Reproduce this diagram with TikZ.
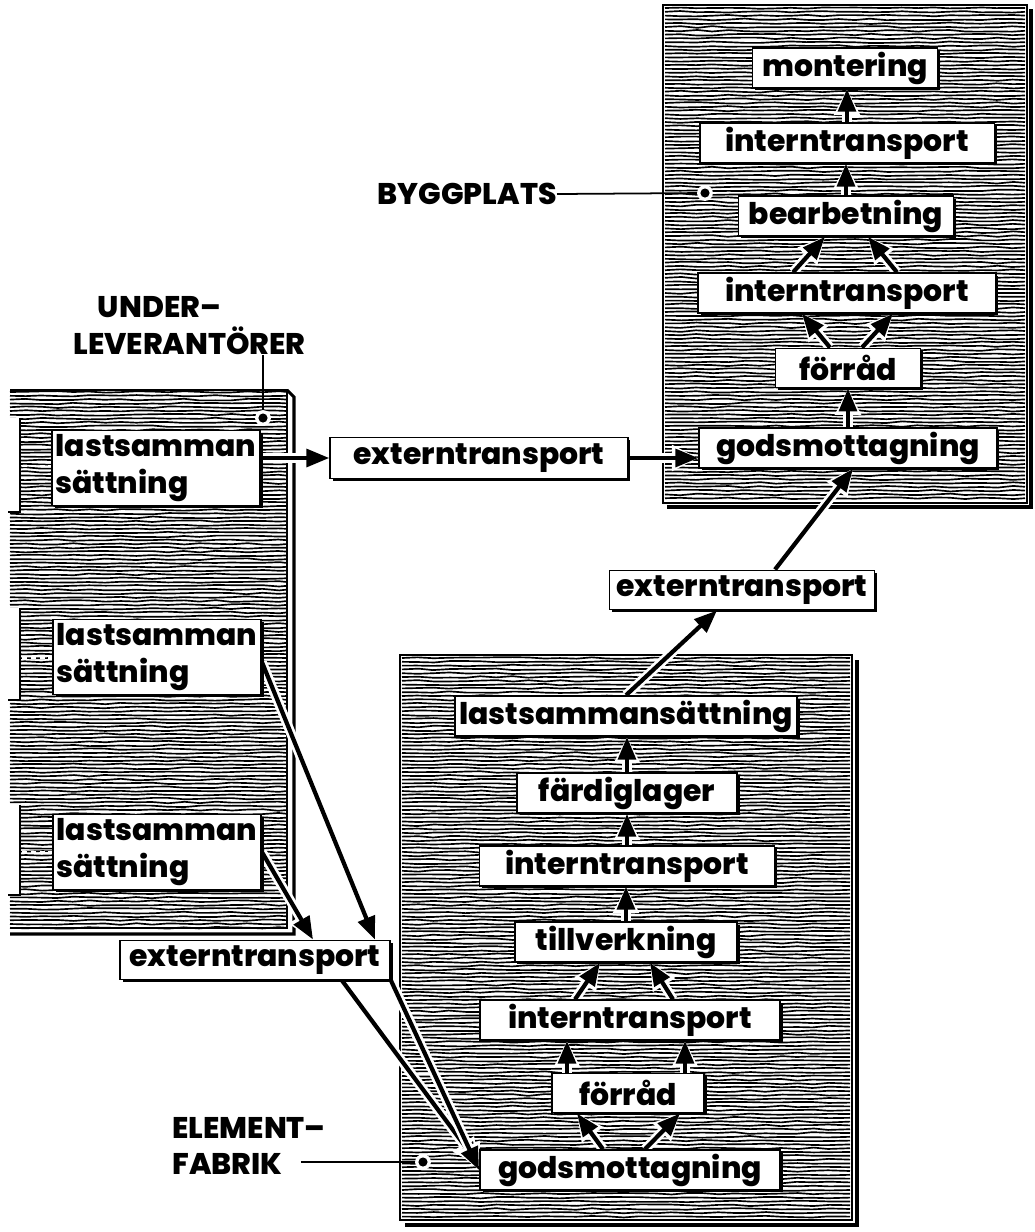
\documentclass[tikz,border=0pt]{standalone}
\usepackage{fontspec}
\setmainfont{Poppins}[BoldFont={* ExtraBold}]
\usetikzlibrary{arrows.meta, positioning, shadows, decorations.pathmorphing}
\pgfdeclarelayer{wood}
\pgfdeclarelayer{links}
\pgfsetlayers{wood,links,main}
\tikzset{
  box/.style={draw=black, fill=white, line width=1.1pt, inner sep=2pt,
              minimum height=0.78cm, font=\fontsize{17}{19}\selectfont\bfseries,
              drop shadow={shadow xshift=1.5pt, shadow yshift=-1.5pt,
                           fill=black, opacity=1}},
  twobox/.style={box, align=left, minimum height=1.5cm, minimum width=3.7cm,
              font=\fontsize{17}{21}\selectfont\bfseries},
  flow/.style={line width=2.4pt, -{Triangle[length=13pt, width=10pt]},
               preaction={draw=white, line width=5.5pt,
                          -{Triangle[length=15pt, width=14pt]}}},
  grain/.style={line width=0.95pt, decorate,
                decoration={random steps, segment length=9pt, amplitude=0.5pt}},
  rim/.style={line width=1.8pt},
  lbl/.style={font=\fontsize{17}{21}\selectfont\bfseries, inner sep=0pt},
  pointer/.style={line width=1pt},
}

\begin{document}
\begin{tikzpicture}[x=0.02cm, y=-0.02cm]
  \useasboundingbox (0,0) rectangle (1035,1232);

  % Panels
  \begin{pgfonlayer}{wood}
    % byggplats
    \foreach \y in {8,11.8,...,500} \draw[grain] (665,\y) -- (1025,\y);
    \draw[line width=0.8pt] (663,5) rectangle (1027,503);
    \draw[rim] (1031,9) -- (1031,507) -- (667,507);
    % elementfabrik
    \foreach \y in {658,661.8,...,1218} \draw[grain] (402,\y) -- (850,\y);
    \draw[line width=0.8pt] (400,655) rectangle (852,1220);
    \draw[rim] (857,660) -- (857,1225) -- (405,1225);
    % underleverantorer
    \foreach \y in {392,395.8,...,928} \draw[grain] (10,\y) -- (287,\y);
    \foreach \a/\b in {418/512, 608/700, 805/895} {
      \fill[white] (0,\a) rectangle (19,\b);
      \draw[line width=1pt] (20,\a) -- (20,\b) -- (8,\b);
    }
    \foreach \y in {466, 658, 852}
      \draw[white, line width=1.6pt, dash pattern=on 3pt off 2pt] (22,\y) -- (62,\y);
    \draw[line width=0.8pt] (10,390) -- (287,390) -- (287,928) -- (10,928);
    \draw[rim] (287,390) -- (294,397) -- (294,934) -- (10,934);
  \end{pgfonlayer}

  % Byggplats
  \node[box, minimum width=3.7cm]  (montB)    at (845,68)  {montering};
  \node[box, minimum width=5.9cm]  (internB1) at (847,143) {interntransport};
  \node[box, minimum width=4.3cm]  (bearbB)   at (846,216) {bearbetning};
  \node[box, minimum width=5.95cm] (internB2) at (847,293) {interntransport};
  \node[box, minimum width=2.9cm]  (forradB)  at (848,368) {förråd};
  \node[box, minimum width=5.95cm] (godsB)    at (848,448) {godsmottagning};

  % Transports
  \node[box, minimum width=5.95cm, minimum height=0.82cm] (extA) at (479,458) {externtransport};
  \node[box, minimum width=5.3cm]  (extB) at (742,590) {externtransport};
  \node[box, minimum width=5.4cm]  (extC) at (255,960) {externtransport};

  % Elementfabrik
  \node[box, minimum width=6.85cm] (lastF)    at (626,716)  {lastsammansättning};
  \node[box, minimum width=4.4cm]  (fardigF)  at (627,793)  {färdiglager};
  \node[box, minimum width=5.9cm]  (internF1) at (627,866)  {interntransport};
  \node[box, minimum width=4.45cm] (tillvF)   at (626,942)  {tillverkning};
  \node[box, minimum width=6.0cm]  (internF2) at (630,1020) {interntransport};
  \node[box, minimum width=3.05cm] (forradF)  at (628,1093) {förråd};
  \node[box, minimum width=6.0cm]  (godsF)    at (630,1170) {godsmottagning};

  % Underleverantorer
  \node[twobox] (lastU1) at (156,468) {lastsamman\\sättning};
  \node[twobox] (lastU2) at (157,657) {lastsamman\\sättning};
  \node[twobox] (lastU3) at (157,852) {lastsamman\\sättning};

  % Labels
  \node[lbl, anchor=east] (byggLbl) at (557,194) {BYGGPLATS};
  \node[lbl, align=left, anchor=south west] (underLbl) at (73,355)
       {\hspace*{14pt}UNDER–\\LEVERANTÖRER};
  \node[lbl, align=left, anchor=west] (elemLbl) at (172,1146)
       {ELEMENT–\\FABRIK};
  \coordinate (byggDot)  at (705,193);
  \coordinate (underDot) at (263,418);
  \coordinate (elemDot)  at (423,1162);
  \draw[pointer] (byggLbl.east) -- (byggDot);
  \draw[pointer] (underLbl.south -| underDot) -- (underDot);
  \draw[pointer] ([xshift=-0.5cm]elemLbl.east |- elemDot) -- (elemDot);
  \foreach \d in {byggDot, underDot, elemDot} {
    \fill[white] (\d) circle (4.5pt);
    \fill (\d) circle (2.6pt);
  }

  % Edges
  \begin{pgfonlayer}{links}
    \draw[flow] (internB1.north) -- (internB1.north |- montB.south);
    \draw[flow] (bearbB.north) -- (bearbB.north |- internB1.south);
    \draw[flow] ([xshift=-1.08cm]internB2.north) -- ([xshift=-0.42cm]bearbB.south);
    \draw[flow] ([xshift=1.0cm]internB2.north) -- ([xshift=0.44cm]bearbB.south);
    \draw[flow] ([xshift=-0.36cm]forradB.north) -- ([xshift=-0.9cm]internB2.south);
    \draw[flow] ([xshift=0.28cm]forradB.north) -- ([xshift=0.92cm]internB2.south);
    \draw[flow] (godsB.north) -- (godsB.north |- forradB.south);

    \draw[flow] (lastU1.east |- extA.west) -- (extA.west);
    \draw[flow] (extA.east) -- (extA.east -| godsB.west);
    \draw[flow] (lastF.north) -- ([xshift=-0.5cm]extB.south);
    \draw[flow] ([xshift=0.66cm]extB.north) -- ([xshift=0.1cm]godsB.south);

    \draw[flow] (fardigF.north) -- (fardigF.north |- lastF.south);
    \draw[flow] (internF1.north) -- (internF1.north |- fardigF.south);
    \draw[flow] (tillvF.north) -- (tillvF.north |- internF1.south);
    \draw[flow] ([xshift=-1.1cm]internF2.north) -- ([xshift=-0.52cm]tillvF.south);
    \draw[flow] ([xshift=0.86cm]internF2.north) -- ([xshift=0.48cm]tillvF.south);
    \draw[flow] ([xshift=-1.22cm]forradF.north) -- ([xshift=-1.22cm]forradF.north |- internF2.south);
    \draw[flow] ([xshift=1.14cm]forradF.north) -- ([xshift=1.14cm]forradF.north |- internF2.south);
    \draw[flow] ([xshift=-0.54cm]godsF.north) -- ([xshift=-1.02cm]forradF.south);
    \draw[flow] ([xshift=0.3cm]godsF.north) -- ([xshift=1.04cm]forradF.south);

    \draw[flow] ([yshift=-0.1cm]lastU2.east) -- ([xshift=2.4cm]extC.north);
    \draw[flow] (lastU3.east) -- ([xshift=1.16cm]extC.north);
    \draw[flow] ([xshift=1.74cm]extC.south) -- ([yshift=0.1cm]godsF.west);
    \draw[flow] (extC.south east) -- (godsF.west);
  \end{pgfonlayer}
\end{tikzpicture}
\end{document}
